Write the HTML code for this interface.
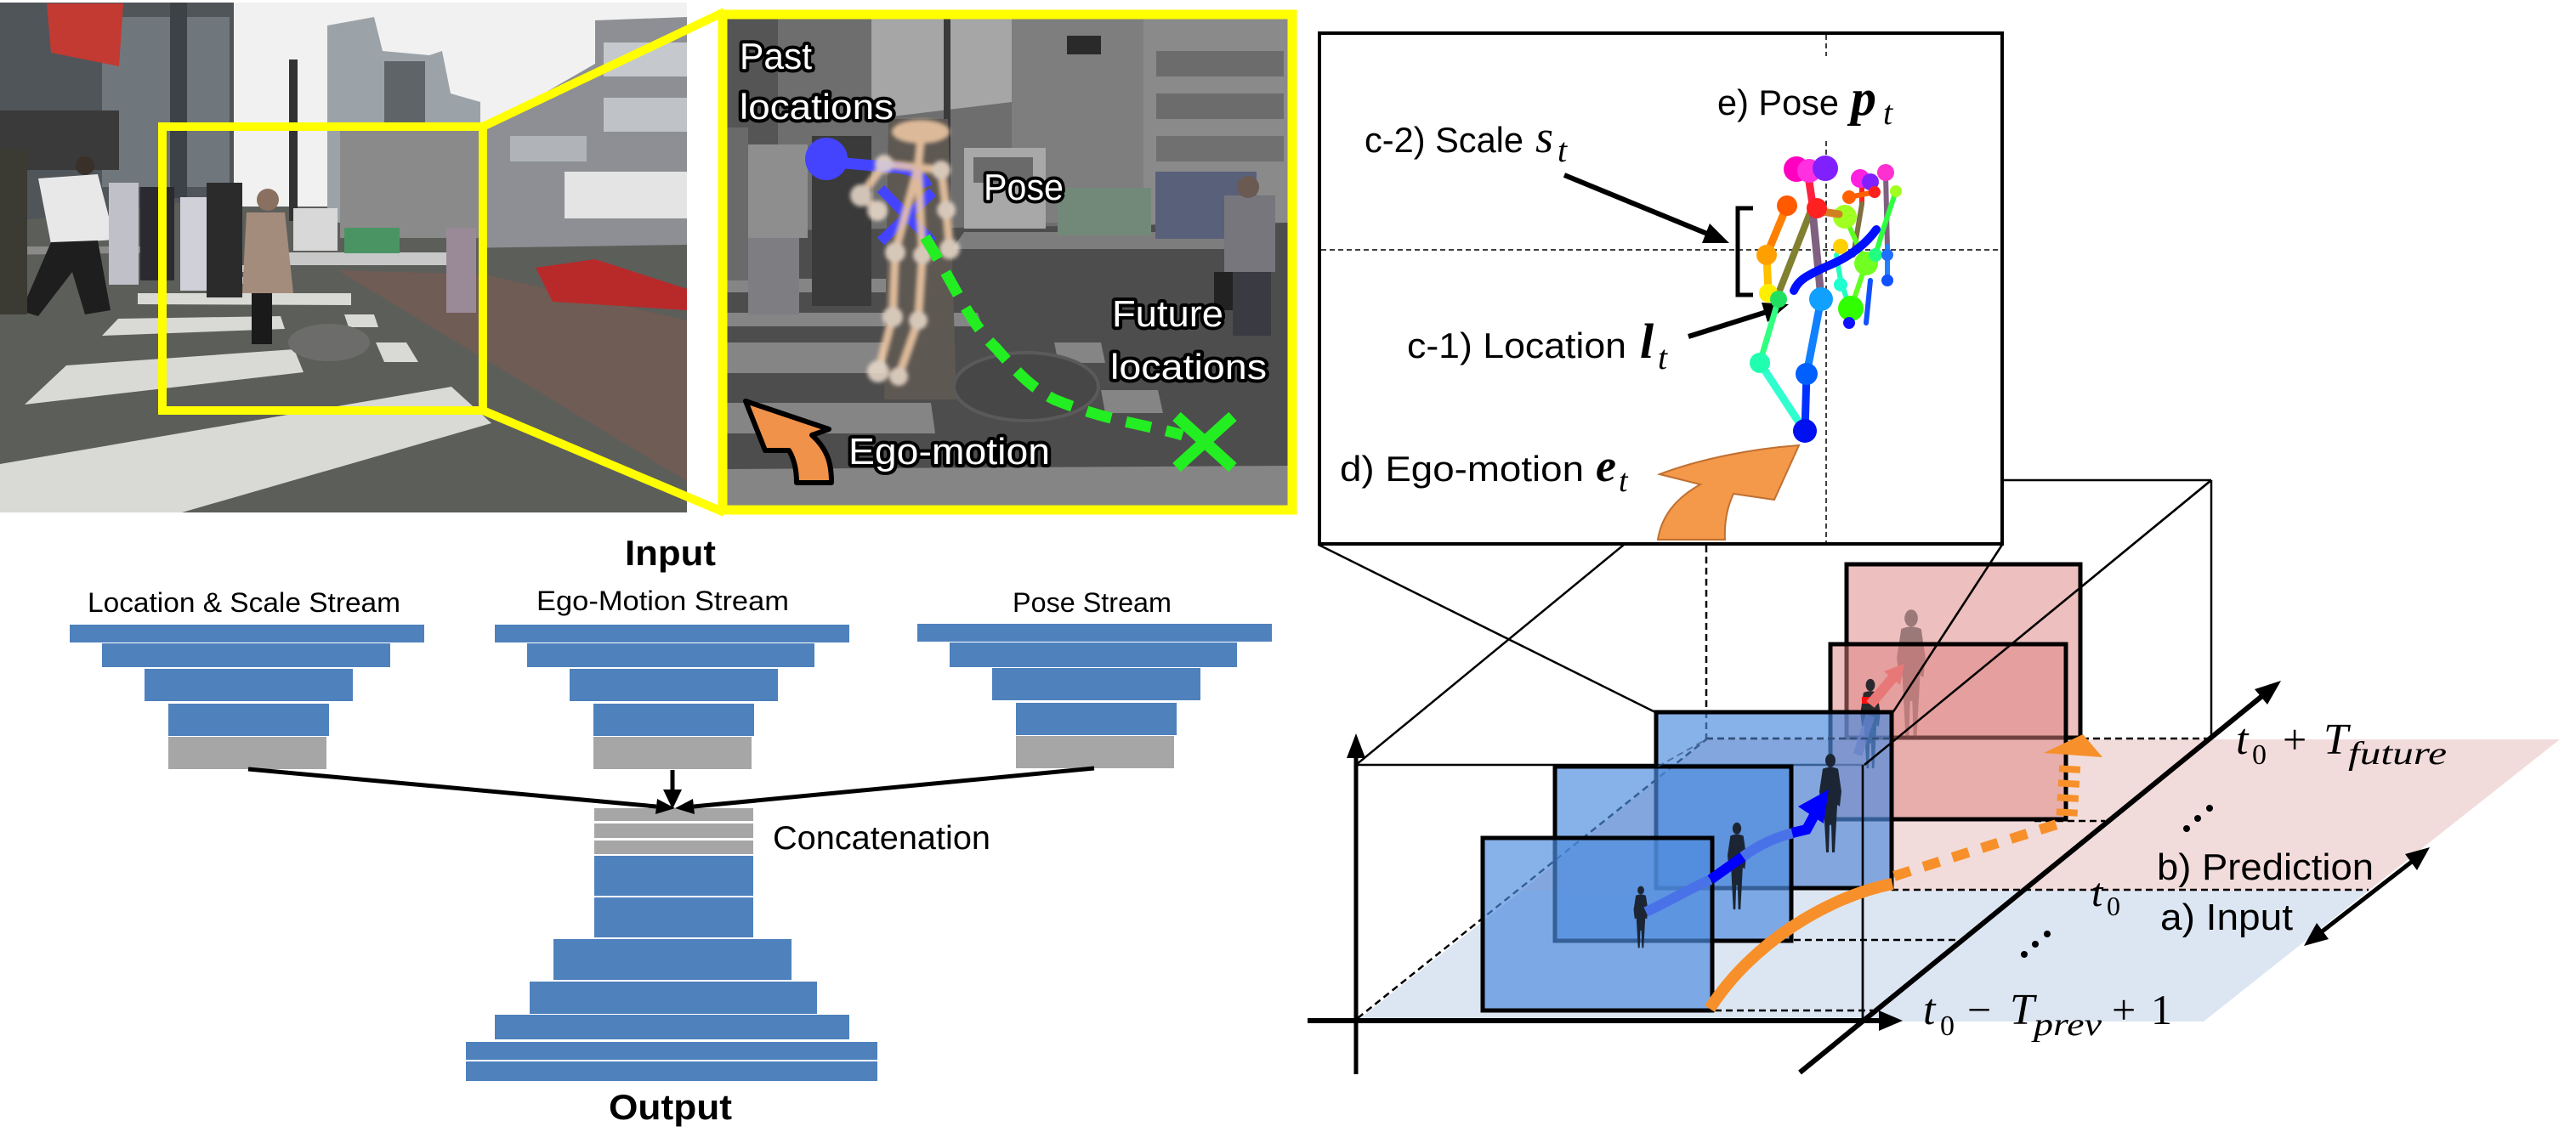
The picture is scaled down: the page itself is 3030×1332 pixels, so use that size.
<!DOCTYPE html>
<html><head><meta charset="utf-8"><style>
html,body{margin:0;padding:0;background:#fff;}
svg{display:block;}
.s{font-family:"Liberation Sans",sans-serif;}
.m{font-family:"Liberation Serif",serif;font-style:italic;}
.lbl{font-family:"Liberation Sans",sans-serif;fill:#fff;stroke:#000;stroke-width:8;paint-order:stroke;stroke-linejoin:round;}
</style></head><body>
<svg width="3030" height="1332" viewBox="0 0 3030 1332" xmlns="http://www.w3.org/2000/svg">
<defs>
<clipPath id="c1"><rect x="0" y="3" width="808" height="600"/></clipPath>
<clipPath id="c2"><rect x="855" y="22" width="660" height="573"/></clipPath>
<filter id="bl" x="-20%" y="-20%" width="140%" height="140%"><feGaussianBlur stdDeviation="2.5"/></filter>
<symbol id="p" viewBox="0 0 40 120" preserveAspectRatio="none">
<ellipse cx="20" cy="9" rx="6" ry="8"/>
<path d="M11,19 Q20,15 29,19 L33,46 L31,64 L28,62 L27,82 L25,119 L22,119 L21,86 L19,86 L18,119 L15,119 L13,82 L12,62 L9,64 L7,46 Z"/>
</symbol>
</defs>

<!-- ============ PHOTO 1 ============ -->
<g clip-path="url(#c1)">
<rect x="0" y="3" width="808" height="600" fill="#5c5e5a"/>
<rect x="270" y="3" width="540" height="240" fill="#f1f1f1"/>
<polygon points="0,3 275,3 275,230 200,240 0,262" fill="#50555a"/>
<rect x="120" y="20" width="150" height="200" fill="#6f777d"/>
<rect x="200" y="3" width="20" height="230" fill="#3d4246"/>
<polygon points="55,4 145,4 140,78 60,62" fill="#c23a32"/>
<rect x="0" y="130" width="140" height="70" fill="#3a3a3a"/>
<polygon points="385,30 440,20 450,60 505,65 520,60 530,110 565,120 565,262 385,262" fill="#9ca3a8"/>
<rect x="452" y="72" width="48" height="185" fill="#5f6468"/>
<rect x="340" y="70" width="10" height="190" fill="#333"/>
<polygon points="570,150 700,75 700,24 808,20 808,320 570,320" fill="#8d8f94"/>
<rect x="710" y="50" width="98" height="40" fill="#c5c9cd"/>
<rect x="710" y="115" width="98" height="40" fill="#bfc3c7"/>
<rect x="600" y="160" width="90" height="30" fill="#b0b4b8"/>
<rect x="664" y="202" width="144" height="55" fill="#e4e4e4"/>
<rect x="400" y="150" width="170" height="130" fill="#8a8a8a"/>
<rect x="0" y="290" width="200" height="80" fill="#8a8a88"/>
<polygon points="0,300 808,288 808,603 0,603" fill="#5c5e5a"/>
<polygon points="397,318 570,323 808,377 808,566" fill="#6f5c54"/>
<rect x="340" y="297" width="190" height="15" fill="#c8c8c8"/>
<g fill="#d9dad5">
<polygon points="162,345 413,345 413,359 162,358"/>
<polygon points="120,395 335,387 330,372 139,375"/>
<polygon points="29,476 357,438 346,411 78,430"/>
<polygon points="0,546 531,455 578,498 214,603 0,603"/>
<polygon points="405,370 440,370 445,385 410,385"/>
<polygon points="442,403 478,403 492,426 452,426"/>
<rect x="256" y="312" width="40" height="8"/><rect x="262" y="326" width="40" height="8"/>
</g>
<polygon points="45,210 115,205 135,282 60,287" fill="#e8e8e8"/>
<circle cx="100" cy="195" r="11" fill="#3a302a"/>
<polygon points="60,285 115,283 130,365 100,370 85,320 45,372 25,366" fill="#1e1e1e"/>
<rect x="0" y="175" width="32" height="195" fill="#3b3b33"/>
<rect x="128" y="215" width="35" height="120" fill="#c0c0c8"/>
<rect x="165" y="220" width="40" height="110" fill="#2a2a30"/>
<rect x="212" y="232" width="32" height="110" fill="#d0d0d8"/>
<rect x="243" y="215" width="42" height="135" fill="#2b2b2b"/>
<polygon points="290,250 335,250 345,345 285,345" fill="#a48c7c"/>
<circle cx="315" cy="235" r="13" fill="#8a7060"/>
<rect x="296" y="345" width="24" height="60" fill="#1a1a1a"/>
<rect x="525" y="268" width="35" height="100" fill="#9a8a98"/>
<rect x="345" y="245" width="52" height="50" fill="#d8d8d8"/>
<rect x="405" y="268" width="65" height="30" fill="#4a9464"/>
<polygon points="630,315 700,305 808,340 808,365 650,355" fill="#b82a2a"/>
<ellipse cx="387" cy="403" rx="48" ry="22" fill="#6c6c6a"/>
</g>
<rect x="191" y="149" width="377" height="334" fill="none" stroke="#ffff00" stroke-width="10"/>
<line x1="568" y1="149" x2="852" y2="14" stroke="#ffff00" stroke-width="10"/>
<line x1="568" y1="483" x2="852" y2="603" stroke="#ffff00" stroke-width="10"/>

<!-- ============ PHOTO 2 (zoom) ============ -->
<g clip-path="url(#c2)">
<rect x="855" y="22" width="660" height="573" fill="#4e4e4e"/>
<rect x="855" y="22" width="660" height="258" fill="#6e6e6e"/>
<polygon points="1025,22 1190,22 1190,120 1025,140" fill="#a6a6a6"/>
<rect x="1190" y="22" width="155" height="240" fill="#7e7e7e"/>
<rect x="1345" y="22" width="170" height="265" fill="#8a8a8a"/>
<rect x="1360" y="60" width="150" height="30" fill="#6c6c6c"/>
<rect x="1360" y="110" width="150" height="30" fill="#6c6c6c"/>
<rect x="1360" y="160" width="150" height="30" fill="#707070"/>
<rect x="855" y="22" width="60" height="260" fill="#555"/>
<rect x="1110" y="22" width="8" height="240" fill="#3a3a3a"/>
<rect x="1255" y="42" width="40" height="22" fill="#2a2a2a"/>
<polygon points="855,272 1515,262 1515,595 855,595" fill="#4d4d4d"/>
<polygon points="1134,273 1455,273 1470,293 1120,293" fill="#7d7d7d"/>
<g fill="#858585">
<polygon points="855,328 1120,328 1125,344 855,344"/>
<polygon points="855,368 1150,368 1155,384 855,384"/>
<polygon points="855,403 1085,403 1090,439 855,439"/>
<polygon points="1240,403 1295,403 1300,427 1245,427"/>
<polygon points="855,474 1095,474 1100,510 855,510"/>
<polygon points="1295,459 1362,459 1368,486 1300,486"/>
<polygon points="855,552 1515,548 1515,595 855,595"/>
</g>
<rect x="870" y="170" width="80" height="110" fill="#8e8e8e"/>
<rect x="880" y="280" width="60" height="90" fill="#7e7e82"/>
<rect x="955" y="160" width="70" height="200" fill="#3a3a3a"/>
<rect x="855" y="150" width="25" height="180" fill="#6a6a6a"/>
<polygon points="1045,140 1115,140 1125,470 1040,470" fill="#5e5852"/>
<rect x="1134" y="174" width="96" height="95" fill="#a8a8a8"/>
<rect x="1145" y="185" width="70" height="30" fill="#6a6a6a"/>
<rect x="1244" y="221" width="110" height="56" fill="#72897a"/>
<rect x="1359" y="202" width="119" height="79" fill="#59607a"/>
<rect x="1440" y="230" width="60" height="90" fill="#76767c"/>
<circle cx="1468" cy="220" r="13" fill="#6a5a52"/>
<rect x="1450" y="320" width="45" height="75" fill="#3a3a42"/>
<rect x="1428" y="320" width="22" height="45" fill="#222"/>
<ellipse cx="1207" cy="455" rx="85" ry="40" fill="#474747" stroke="#5a5a5a" stroke-width="4"/>
</g>
<rect x="850" y="17" width="670" height="583" fill="none" stroke="#ffff00" stroke-width="11"/>

<!-- overlays panel 2 -->
<circle cx="972" cy="187" r="25" fill="#4444ff"/>
<path d="M972,190 L1050,197 Q1082,198 1090,220" fill="none" stroke="#4444ff" stroke-width="13"/>
<line x1="1036" y1="222" x2="1097" y2="285" stroke="#4444ff" stroke-width="12"/>
<line x1="1036" y1="284" x2="1097" y2="226" stroke="#4444ff" stroke-width="12"/>
<g filter="url(#bl)" opacity="0.85">
<ellipse cx="1083" cy="155" rx="34" ry="14" fill="#f3cba6"/>
<g stroke="#f3cba6" stroke-width="10" stroke-linecap="round" fill="none">
<path d="M1083,165 L1080,195"/><path d="M1040,193 L1107,200"/>
<path d="M1040,193 L1013,230 L1032,248"/><path d="M1107,200 L1113,247 L1117,293"/>
<path d="M1080,195 L1053,297"/><path d="M1080,195 L1085,300"/>
<path d="M1053,297 L1050,373 L1033,437"/><path d="M1085,300 L1080,377 L1057,443"/>
</g>
<g fill="#ecdccc">
<circle cx="1040" cy="193" r="11"/><circle cx="1107" cy="200" r="11"/><circle cx="1013" cy="230" r="13"/>
<circle cx="1032" cy="248" r="12"/><circle cx="1113" cy="247" r="11"/><circle cx="1117" cy="293" r="12"/>
<circle cx="1053" cy="297" r="12"/><circle cx="1085" cy="300" r="11"/><circle cx="1050" cy="373" r="12"/>
<circle cx="1080" cy="377" r="11"/><circle cx="1033" cy="437" r="13"/><circle cx="1057" cy="443" r="11"/>
</g>
</g>
<path d="M1088,279 C1120,330 1140,380 1172,410 C1198,440 1212,455 1240,470 C1300,495 1350,500 1391,512" fill="none" stroke="#22ee22" stroke-width="13" stroke-dasharray="30 18"/>
<line x1="1384" y1="490" x2="1450" y2="550" stroke="#22ee22" stroke-width="14"/>
<line x1="1384" y1="550" x2="1450" y2="490" stroke="#22ee22" stroke-width="14"/>
<path d="M877,472 L975,505 L955,512 C975,530 978,548 978,568 L937,568 C937,552 934,540 928,530 L900,530 Z" fill="#f0924a" stroke="#000" stroke-width="6" stroke-linejoin="round"/>
<text class="lbl" x="870" y="81" font-size="44" textLength="85" lengthAdjust="spacingAndGlyphs">Past</text>
<text class="lbl" x="870" y="140" font-size="42" textLength="181" lengthAdjust="spacingAndGlyphs">locations</text>
<text class="lbl" x="1157" y="235" font-size="44" textLength="94" lengthAdjust="spacingAndGlyphs">Pose</text>
<text class="lbl" x="1308" y="384" font-size="44" textLength="131" lengthAdjust="spacingAndGlyphs">Future</text>
<text class="lbl" x="1306" y="446" font-size="42" textLength="184" lengthAdjust="spacingAndGlyphs">locations</text>
<text class="lbl" x="998" y="546" font-size="44" textLength="237" lengthAdjust="spacingAndGlyphs">Ego-motion</text>

<!-- ============ NETWORK ============ -->
<text class="s" x="735" y="665" font-size="42" font-weight="bold" textLength="107" lengthAdjust="spacingAndGlyphs">Input</text>
<text class="s" x="103" y="720" font-size="32" textLength="368" lengthAdjust="spacingAndGlyphs">Location &amp; Scale Stream</text>
<text class="s" x="631" y="718" font-size="32" textLength="297" lengthAdjust="spacingAndGlyphs">Ego-Motion Stream</text>
<text class="s" x="1191" y="720" font-size="32" textLength="187" lengthAdjust="spacingAndGlyphs">Pose Stream</text>
<g fill="#4f81bd">
<rect x="82" y="735" width="417" height="21"/><rect x="120" y="757" width="339" height="28"/><rect x="170" y="787" width="245" height="38"/><rect x="198" y="828" width="189" height="38"/>
<rect x="582" y="735" width="417" height="21"/><rect x="620" y="757" width="338" height="28"/><rect x="670" y="787" width="245" height="38"/><rect x="698" y="828" width="189" height="38"/>
<rect x="1079" y="734" width="417" height="21"/><rect x="1117" y="756" width="338" height="29"/><rect x="1167" y="786" width="245" height="38"/><rect x="1195" y="827" width="189" height="38"/>
<rect x="699" y="1007" width="187" height="47"/><rect x="699" y="1056" width="187" height="47"/><rect x="651" y="1105" width="280" height="48"/><rect x="623" y="1155" width="338" height="38"/><rect x="582" y="1194" width="417" height="29"/><rect x="548" y="1226" width="484" height="21"/><rect x="548" y="1249" width="484" height="23"/>
</g>
<g fill="#a6a6a6">
<rect x="198" y="867" width="186" height="38"/><rect x="698" y="867" width="186" height="38"/><rect x="1195" y="866" width="186" height="38"/>
<rect x="699" y="951" width="187" height="15"/><rect x="699" y="969" width="187" height="17"/><rect x="699" y="989" width="187" height="16"/>
</g>
<g stroke="#000" stroke-width="5">
<line x1="292" y1="905" x2="772" y2="949"/>
<line x1="791" y1="906" x2="791" y2="930"/>
<line x1="1287" y1="904" x2="816" y2="949"/>
</g>
<g fill="#000">
<polygon points="794,951 771,958 773,940"/>
<polygon points="791,952 780,929 802,929"/>
<polygon points="794,951 815,940 817,958"/>
</g>
<text class="s" x="909" y="999" font-size="39" textLength="256" lengthAdjust="spacingAndGlyphs">Concatenation</text>
<text class="s" x="716" y="1317" font-size="42" font-weight="bold" textLength="145" lengthAdjust="spacingAndGlyphs">Output</text>

<!-- ============ 3D DIAGRAM ============ -->
<polygon points="2007,870 3011,870 2786,1048 1790,1048" fill="#f2dcdb"/>
<polygon points="1790,1048 2786,1048 2592,1202 1595,1202" fill="#dce6f2"/>
<g stroke="#000" stroke-width="2.5" fill="none">
<line x1="2355" y1="565" x2="2601" y2="565"/>
<line x1="2601" y1="565" x2="2601" y2="868"/>
<line x1="2601" y1="565" x2="2193" y2="900"/>
<line x1="1910" y1="641" x2="1595" y2="900"/>
<line x1="1595" y1="900" x2="2193" y2="900"/>
<line x1="2191" y1="900" x2="2191" y2="1201"/>
<line x1="1551" y1="641" x2="1949" y2="839"/>
<line x1="2355" y1="641" x2="2226" y2="839"/>
</g>
<g stroke="#000" stroke-width="2.5" stroke-dasharray="8 5" fill="none">
<line x1="2007" y1="642" x2="2007" y2="870"/>
<line x1="2007" y1="869" x2="2601" y2="869"/>
<line x1="1597" y1="1198" x2="2007" y2="870"/>
<line x1="2393" y1="966" x2="2476" y2="966"/>
<line x1="2225" y1="1047" x2="2786" y2="1047"/>
<line x1="2032" y1="1106" x2="2300" y2="1106"/>
<line x1="1939" y1="1189" x2="2203" y2="1189"/>
</g>
<rect x="2172" y="664" width="275" height="204" fill="rgb(220,128,126)" fill-opacity="0.5" stroke="#000" stroke-width="5"/>
<use href="#p" x="2222" y="716" width="52" height="152" fill="#3a2525" opacity="0.45"/>
<rect x="2153" y="758" width="277" height="206" fill="rgb(220,128,126)" fill-opacity="0.5" stroke="#000" stroke-width="5"/>
<use href="#p" x="2182" y="798" width="36" height="107" fill="#2a2a2e"/>
<rect x="2190" y="820" width="20" height="8" fill="#ff1010"/>
<path d="M2185,888 L2200,842" stroke="#9a6aa0" stroke-width="11" stroke-opacity="0.7"/>
<rect x="1948" y="838" width="277" height="207" fill="rgb(78,140,222)" fill-opacity="0.68" stroke="#000" stroke-width="5"/>
<line x1="2007" y1="869" x2="2225" y2="869" stroke="#33507a" stroke-width="2.5" stroke-dasharray="8 5"/>
<rect x="1829" y="902" width="278" height="205" fill="rgb(78,140,222)" fill-opacity="0.68" stroke="#000" stroke-width="5"/>
<use href="#p" x="2133" y="886" width="40" height="118" fill="#1c2533"/>
<use href="#p" x="2026" y="967" width="34" height="104" fill="#1c2533"/>
<rect x="1744" y="986" width="270" height="203" fill="rgb(78,140,222)" fill-opacity="0.68" stroke="#000" stroke-width="5"/>
<use href="#p" x="1917" y="1042" width="26" height="74" fill="#1c2533"/>
<line x1="1950" y1="902" x2="2007" y2="870" stroke="#33507a" stroke-width="2" stroke-dasharray="8 5" opacity="0.6"/>
<line x1="2601" y1="565" x2="2193" y2="900" stroke="#000" stroke-width="2.5"/>
<line x1="2355" y1="641" x2="2226" y2="839" stroke="#000" stroke-width="2.5"/>
<line x1="2191" y1="900" x2="2191" y2="1201" stroke="#000" stroke-width="2.5"/>
<path d="M1936,1073 C1960,1062 1985,1047 2012,1035" fill="none" stroke="#4a72e8" stroke-width="12"/>
<path d="M2012,1035 L2050,1008" fill="none" stroke="#0000ff" stroke-width="12"/>
<path d="M2050,1008 C2072,992 2092,984 2110,980" fill="none" stroke="#4a72e8" stroke-width="12"/>
<path d="M2108,980 L2125,976 L2138,952" fill="none" stroke="#0000ff" stroke-width="12"/>
<polygon points="2151,929 2115,949 2145,969" fill="#0000ff"/>
<path d="M2200,829 L2226,798" stroke="#e87878" stroke-width="12"/>
<polygon points="2240,781 2235,806 2216,790" fill="#e87878"/>
<path d="M2011,1187 C2060,1110 2150,1055 2226,1040" fill="none" stroke="#f7902a" stroke-width="14"/>
<path d="M2228,1031 Q2330,998 2432,966" fill="none" stroke="#f7902a" stroke-width="12" stroke-dasharray="20 16"/>
<path d="M2431,960 L2435,896" fill="none" stroke="#f7902a" stroke-width="25" stroke-dasharray="8 9"/>
<polygon points="2404,886 2473,891 2450,864" fill="#f7902a"/>
<g stroke="#000" fill="none">
<line x1="1595" y1="1264" x2="1595" y2="885" stroke-width="5"/>
<line x1="1538" y1="1201" x2="2215" y2="1201" stroke-width="6"/>
<line x1="2117" y1="1262" x2="2662" y2="818" stroke-width="6"/>
<line x1="2730" y1="1097" x2="2838" y2="1013" stroke-width="5"/>
</g>
<g fill="#000">
<polygon points="1595,863 1584,892 1606,892"/>
<polygon points="2238,1201 2210,1189 2210,1213"/>
<polygon points="2683,801 2667,829 2652,811"/>
<polygon points="2858,997 2843,1024 2829,1005"/>
<polygon points="2710,1113 2739,1105 2725,1086"/>
</g>
<text class="m" x="2630" y="887" font-size="52">t</text>
<text class="m" x="2649" y="899" font-size="34" style="font-style:normal">0</text>
<text class="m" x="2685" y="887" font-size="50" style="font-style:normal">+</text>
<text class="m" x="2733" y="887" font-size="52">T</text>
<text class="m" x="2762" y="899" font-size="38" textLength="116" lengthAdjust="spacingAndGlyphs">future</text>
<text class="s" x="2537" y="1035" font-size="44" textLength="255" lengthAdjust="spacingAndGlyphs">b) Prediction</text>
<text class="m" x="2460" y="1066" font-size="48">t</text>
<text class="m" x="2478" y="1077" font-size="32" style="font-style:normal">0</text>
<text class="s" x="2541" y="1094" font-size="44" textLength="156" lengthAdjust="spacingAndGlyphs">a) Input</text>
<text class="m" x="2262" y="1205" font-size="52">t</text>
<text class="m" x="2282" y="1218" font-size="34" style="font-style:normal">0</text>
<text class="m" x="2314" y="1205" font-size="50" style="font-style:normal">−</text>
<text class="m" x="2364" y="1205" font-size="52">T</text>
<text class="m" x="2392" y="1218" font-size="38" textLength="80" lengthAdjust="spacingAndGlyphs">prev</text>
<text class="m" x="2484" y="1205" font-size="50" style="font-style:normal">+</text>
<text class="m" x="2530" y="1205" font-size="50" style="font-style:normal">1</text>
<g fill="#000">
<circle cx="2572" cy="975" r="4"/><circle cx="2585" cy="963" r="4"/><circle cx="2599" cy="951" r="4"/>
<circle cx="2381" cy="1123" r="4"/><circle cx="2394" cy="1111" r="4"/><circle cx="2408" cy="1099" r="4"/>
</g>

<!-- ============ TOP-RIGHT BOX ============ -->
<rect x="1552" y="39" width="803" height="601" fill="#fff" stroke="#000" stroke-width="4"/>
<g stroke="#000" stroke-width="1.5" stroke-dasharray="6 4">
<line x1="2148" y1="41" x2="2148" y2="66"/>
<line x1="2148" y1="166" x2="2148" y2="638"/>
<line x1="1554" y1="294" x2="2353" y2="294"/>
</g>
<text class="s" x="2020" y="135" font-size="42" textLength="143" lengthAdjust="spacingAndGlyphs">e) Pose</text>
<text class="m" x="2177" y="135" font-size="60" font-weight="bold">p</text>
<text class="m" x="2215" y="146" font-size="40">t</text>
<text class="s" x="1605" y="179" font-size="42" textLength="187" lengthAdjust="spacingAndGlyphs">c-2) Scale</text>
<text class="m" x="1806" y="179" font-size="54">s</text>
<text class="m" x="1832" y="190" font-size="40">t</text>
<text class="s" x="1655" y="421" font-size="42" textLength="258" lengthAdjust="spacingAndGlyphs">c-1) Location</text>
<text class="m" x="1929" y="421" font-size="58" font-weight="bold">l</text>
<text class="m" x="1950" y="434" font-size="40">t</text>
<text class="s" x="1576" y="566" font-size="42" textLength="287" lengthAdjust="spacingAndGlyphs">d) Ego-motion</text>
<text class="m" x="1877" y="566" font-size="54" font-weight="bold">e</text>
<text class="m" x="1904" y="578" font-size="38">t</text>
<line x1="1840" y1="206" x2="2008" y2="275" stroke="#000" stroke-width="6"/>
<polygon points="2034,286 2002,286 2011,263" fill="#000"/>
<line x1="1986" y1="396" x2="2078" y2="367" stroke="#000" stroke-width="6"/>
<polygon points="2104,358 2079,379 2072,356" fill="#000"/>
<path d="M2062,245 L2044,245 L2044,347 L2062,347" fill="none" stroke="#000" stroke-width="5"/>
<g stroke-linecap="round" fill="none" stroke-width="6">
<path d="M2190,210 L2190,240" stroke="#ff2020"/>
<path d="M2175,232 L2205,226" stroke="#ff6000"/>
<path d="M2190,240 L2180,300" stroke="#807040"/>
<path d="M2218,205 L2220,290" stroke="#806080"/>
<path d="M2170,255 L2195,310 L2177,363" stroke="#60ff20"/>
<path d="M2230,225 L2215,270 L2206,300" stroke="#30ff40"/>
<path d="M2220,290 L2220,330" stroke="#2080ff"/>
<path d="M2175,360 L2165,330 L2160,300" stroke="#20ffc0"/>
<path d="M2200,330 L2195,380" stroke="#1050ff"/>
</g>
<g>
<circle cx="2188" cy="210" r="11" fill="#ff20e0"/><circle cx="2200" cy="214" r="10" fill="#8020ff"/><circle cx="2218" cy="203" r="10" fill="#ff30d0"/>
<circle cx="2175" cy="232" r="8" fill="#ff6000"/><circle cx="2205" cy="226" r="7" fill="#ff2020"/><circle cx="2230" cy="225" r="7" fill="#a0ff20"/>
<circle cx="2170" cy="255" r="14" fill="#a0ff20"/><circle cx="2165" cy="290" r="9" fill="#ffd000"/>
<circle cx="2195" cy="310" r="14" fill="#70ff20"/><circle cx="2206" cy="300" r="8" fill="#20ff80"/>
<circle cx="2177" cy="363" r="15" fill="#30ff00"/><circle cx="2175" cy="380" r="7" fill="#1010ff"/>
<circle cx="2220" cy="300" r="7" fill="#2070ff"/><circle cx="2220" cy="330" r="7" fill="#1050ff"/>
<circle cx="2165" cy="335" r="8" fill="#20ffd0"/>
</g>
<g stroke-linecap="round" fill="none">
<path d="M2127,207 L2133,247" stroke="#ff2040" stroke-width="9"/>
<path d="M2102,242 L2078,300" stroke="#ff8000" stroke-width="9"/>
<path d="M2078,300 L2080,345" stroke="#ffc000" stroke-width="9"/>
<path d="M2130,248 L2090,350" stroke="#808030" stroke-width="8"/>
<path d="M2132,248 L2142,350" stroke="#806080" stroke-width="9"/>
<path d="M2137,248 L2163,252" stroke="#d08020" stroke-width="9"/>
<path d="M2092,352 L2070,427" stroke="#30ff80" stroke-width="7"/>
<path d="M2070,427 L2120,503" stroke="#30ffd0" stroke-width="9"/>
<path d="M2142,352 L2125,440" stroke="#1080ff" stroke-width="9"/>
<path d="M2125,440 L2123,507" stroke="#0030ff" stroke-width="9"/>
<path d="M2110,342 C2115,330 2125,325 2135,320 C2150,312 2160,310 2175,300 C2190,290 2200,280 2207,270" stroke="#0010ff" stroke-width="10"/>
</g>
<g>
<circle cx="2113" cy="199" r="15" fill="#ff00c0"/><circle cx="2128" cy="201" r="14" fill="#ff30e0"/><circle cx="2147" cy="198" r="15" fill="#8020ff"/>
<circle cx="2137" cy="245" r="12" fill="#ff2020"/><circle cx="2102" cy="242" r="12" fill="#ff5a00"/>
<circle cx="2078" cy="300" r="12" fill="#ffa000"/><circle cx="2080" cy="345" r="11" fill="#ffee00"/>
<circle cx="2092" cy="352" r="10" fill="#20e060"/><circle cx="2070" cy="427" r="12" fill="#20ffb0"/>
<circle cx="2120" cy="503" r="8" fill="#00f0f0"/><circle cx="2142" cy="352" r="14" fill="#10a0ff"/>
<circle cx="2125" cy="440" r="13" fill="#0060ff"/><circle cx="2123" cy="507" r="14" fill="#0010f0"/>
</g>
<path d="M1952,558 C2000,540 2060,528 2116,524 L2087,588 L2039,581 C2031,598 2028,615 2029,635 L1950,635 C1954,610 1968,588 2000,570 Z" fill="#f4984a" stroke="#c07030" stroke-width="2"/>
</svg>
</body></html>
